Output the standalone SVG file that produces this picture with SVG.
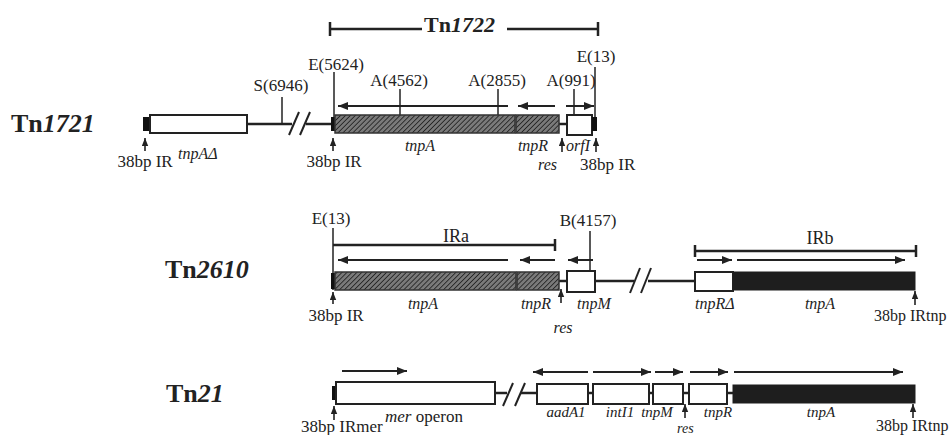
<svg xmlns="http://www.w3.org/2000/svg" width="950" height="435" viewBox="0 0 950 435">
<defs>
  <pattern id="hatch" patternUnits="userSpaceOnUse" width="3.5" height="3.5" patternTransform="rotate(45)">
    <rect width="3.5" height="3.5" fill="#7a7a7a"/>
    <line x1="0" y1="0" x2="0" y2="3.5" stroke="#222" stroke-width="1.7"/>
  </pattern>
  <marker id="head" viewBox="0 0 10 8" refX="10" refY="4" markerWidth="11" markerHeight="8" markerUnits="userSpaceOnUse" orient="auto">
    <path d="M0,0 L10,4 L0,8 Z" fill="#222"/>
  </marker>
  <marker id="headS" viewBox="0 0 10 8" refX="10" refY="4" markerWidth="8" markerHeight="7" markerUnits="userSpaceOnUse" orient="auto">
    <path d="M0,0 L10,4 L0,8 Z" fill="#222"/>
  </marker>
</defs>
<style>
  .bb { stroke:#222; stroke-width:2.5; fill:none; }
  .tick { stroke:#222; stroke-width:1.5; fill:none; }
  .brk { stroke:#222; stroke-width:2.5; fill:none; }
  .arr { stroke:#222; stroke-width:2; fill:none; marker-end:url(#head); }
  .up { stroke:#222; stroke-width:1.6; fill:none; marker-end:url(#headS); }
  .wbox { fill:#fff; stroke:#222; stroke-width:2; }
  .hbox { fill:url(#hatch); stroke:#333; stroke-width:1.5; }
  .kbox { fill:#1e1e1e; stroke:#1e1e1e; stroke-width:1; }
  .end { fill:#111; }
  .slash { stroke:#222; stroke-width:2; fill:none; }
  .t { font-family:"Liberation Serif","Times New Roman",serif; font-size:17px; fill:#222; }
  .g { font-family:"Liberation Serif","Times New Roman",serif; font-size:16px; font-style:italic; fill:#222; }
  .g3 { font-family:"Liberation Serif","Times New Roman",serif; font-size:15px; font-style:italic; fill:#222; }
  .tn { font-family:"Liberation Serif","Times New Roman",serif; font-size:26px; font-weight:bold; fill:#222; }
  .ir { font-family:"Liberation Serif","Times New Roman",serif; font-size:18px; fill:#222; }
  .m { text-anchor:middle; }
</style>
<rect width="950" height="435" fill="#fff"/>

<!-- ===================== Connectors (backbones, arrows, ticks) ===================== -->
<g id="connectors">
  <!-- Row 1 backbone -->
  <line class="bb" x1="143" y1="124" x2="292" y2="124"/>
  <line class="bb" x1="306" y1="124" x2="335" y2="124"/>
  <line class="bb" x1="559" y1="124" x2="567" y2="124"/>
  <!-- Row 2 backbone -->
  <line class="bb" x1="559" y1="281" x2="567" y2="281"/>
  <line class="bb" x1="595" y1="281" x2="634" y2="281"/>
  <line class="bb" x1="648" y1="281" x2="695" y2="281"/>
  <!-- Row 3 backbone -->
  <line class="bb" x1="495" y1="393" x2="507" y2="393"/>
  <line class="bb" x1="521" y1="393" x2="537" y2="393"/>
  <line class="bb" x1="588" y1="393" x2="593" y2="393"/>
  <line class="bb" x1="649" y1="393" x2="653" y2="393"/>
  <line class="bb" x1="683" y1="393" x2="689" y2="393"/>
  <line class="bb" x1="727" y1="393" x2="733" y2="393"/>

  <!-- Row 1 direction arrows -->
  <line class="arr" x1="508" y1="106" x2="338" y2="106"/>
  <line class="arr" x1="555" y1="106" x2="518" y2="106"/>
  <line class="arr" x1="566" y1="106" x2="594" y2="106"/>
  <!-- Row 2 direction arrows -->
  <line class="arr" x1="508" y1="260" x2="338" y2="260"/>
  <line class="arr" x1="555" y1="260" x2="520" y2="260"/>
  <line class="arr" x1="593" y1="260" x2="568" y2="260"/>
  <line class="arr" x1="697" y1="260" x2="732" y2="260"/>
  <line class="arr" x1="737" y1="260" x2="905" y2="260"/>
  <!-- Row 3 direction arrows -->
  <line class="arr" x1="342" y1="371" x2="407" y2="371"/>
  <line class="arr" x1="588" y1="372" x2="533" y2="372"/>
  <line class="arr" x1="593" y1="372" x2="651" y2="372"/>
  <line class="arr" x1="655" y1="372" x2="683" y2="372"/>
  <line class="arr" x1="690" y1="372" x2="728" y2="372"/>
  <line class="arr" x1="734" y1="372" x2="903" y2="372"/>

  <!-- Row 1 restriction ticks -->
  <line class="tick" x1="282" y1="97" x2="282" y2="124"/>
  <line class="tick" x1="334" y1="72" x2="334" y2="124"/>
  <line class="tick" x1="400" y1="89" x2="400" y2="115"/>
  <line class="tick" x1="498" y1="89" x2="498" y2="115"/>
  <line class="tick" x1="574" y1="89" x2="574" y2="115"/>
  <line class="tick" x1="595" y1="67" x2="595" y2="124"/>
  <!-- Row 2 ticks -->
  <line class="tick" x1="333" y1="228" x2="333" y2="290"/>
  <line class="tick" x1="590" y1="231" x2="590" y2="271"/>

  <!-- Tn1722 bracket -->
  <line class="brk" x1="330" y1="29" x2="422" y2="29"/>
  <line class="brk" x1="507" y1="29" x2="598" y2="29"/>
  <line class="brk" x1="330" y1="22" x2="330" y2="36"/>
  <line class="brk" x1="598" y1="22" x2="598" y2="36"/>
  <!-- IRa bracket -->
  <line class="brk" x1="333" y1="245" x2="555" y2="245"/>
  <line class="brk" x1="555" y1="239" x2="555" y2="251"/>
  <!-- IRb bracket -->
  <line class="brk" x1="695" y1="251" x2="916" y2="251"/>
  <line class="brk" x1="695" y1="245" x2="695" y2="257"/>
  <line class="brk" x1="916" y1="245" x2="916" y2="257"/>

  <!-- small up arrows -->
  <line class="up" x1="145" y1="151" x2="145" y2="138"/>
  <line class="up" x1="333" y1="151" x2="333" y2="138"/>
  <line class="up" x1="562" y1="152" x2="562" y2="138"/>
  <line class="up" x1="596" y1="152" x2="596" y2="138"/>
  <line class="up" x1="333" y1="304" x2="333" y2="292"/>
  <line class="up" x1="561" y1="303" x2="561" y2="289"/>
  <line class="up" x1="915" y1="305" x2="915" y2="291"/>
  <line class="up" x1="334" y1="420" x2="334" y2="406"/>
  <line class="up" x1="685" y1="418" x2="685" y2="404"/>
  <line class="up" x1="913" y1="418" x2="913" y2="404"/>

  <!-- break marks -->
  <line class="slash" x1="289" y1="135" x2="299" y2="112"/>
  <line class="slash" x1="300" y1="135" x2="310" y2="112"/>
  <line class="slash" x1="630" y1="293" x2="640" y2="268"/>
  <line class="slash" x1="641" y1="293" x2="651" y2="268"/>
  <line class="slash" x1="503" y1="406" x2="513" y2="383"/>
  <line class="slash" x1="515" y1="406" x2="525" y2="383"/>
</g>

<!-- ===================== Title bracket label ===================== -->
<g id="tn1722-label">
  <text class="tn" x="424" y="32" style="font-size:22px">Tn<tspan font-style="italic">1722</tspan></text>
</g>

<!-- ===================== Row 1: Tn1721 ===================== -->
<g id="tn1721">
  <text class="tn" x="11" y="132">Tn<tspan font-style="italic">1721</tspan></text>
  <rect class="end" x="143" y="117" width="7" height="14"/>
  <rect class="wbox" x="150" y="115" width="97" height="18"/>
  <rect class="end" x="331" y="117" width="6" height="14"/>
  <rect class="hbox" x="335" y="115" width="180" height="18"/>
  <rect class="hbox" x="516" y="115" width="43" height="18"/>
  <rect class="wbox" x="567" y="115" width="25" height="20"/>
  <rect class="end" x="592" y="117" width="5" height="14"/>

  <text class="t m" x="281" y="91">S(6946)</text>
  <text class="t m" x="336" y="70">E(5624)</text>
  <text class="t m" x="399" y="86">A(4562)</text>
  <text class="t m" x="497" y="86">A(2855)</text>
  <text class="t m" x="571" y="86">A(991)</text>
  <text class="t m" x="596" y="62">E(13)</text>

  <text class="t m" x="145" y="167">38bp IR</text>
  <text class="g" x="178" y="159">tnpAΔ</text>
  <text class="t m" x="334" y="167">38bp IR</text>
  <text class="g m" x="420" y="151">tnpA</text>
  <text class="g m" x="533" y="151">tnpR</text>
  <text class="g" x="566" y="151">orfI</text>
  <text class="g" x="538" y="170">res</text>
  <text class="t" x="580" y="170">38bp IR</text>
</g>

<!-- ===================== Row 2: Tn2610 ===================== -->
<g id="tn2610">
  <text class="tn" x="165" y="278">Tn<tspan font-style="italic">2610</tspan></text>
  <rect class="end" x="331" y="273" width="6" height="16"/>
  <rect class="hbox" x="335" y="272" width="181" height="18"/>
  <rect class="hbox" x="517" y="272" width="42" height="18"/>
  <rect class="wbox" x="567" y="271" width="28" height="21"/>
  <rect class="wbox" x="695" y="272" width="38" height="19"/>
  <rect class="kbox" x="733" y="272" width="182" height="18"/>

  <text class="t m" x="331" y="224">E(13)</text>
  <text class="ir m" x="456" y="242">IRa</text>
  <text class="t m" x="588" y="226">B(4157)</text>
  <text class="ir m" x="820" y="244">IRb</text>

  <text class="t m" x="336" y="321">38bp IR</text>
  <text class="g m" x="423" y="309">tnpA</text>
  <text class="g m" x="536" y="309">tnpR</text>
  <text class="g m" x="594" y="309">tnpM</text>
  <text class="g m" x="563" y="333">res</text>
  <text class="g" x="695" y="309">tnpRΔ</text>
  <text class="g m" x="820" y="309">tnpA</text>
  <text class="t" x="874" y="321" style="font-size:16px">38bp IRtnp</text>
</g>

<!-- ===================== Row 3: Tn21 ===================== -->
<g id="tn21">
  <text class="tn" x="166" y="402">Tn<tspan font-style="italic">21</tspan></text>
  <rect class="end" x="332" y="386" width="6" height="14"/>
  <rect class="wbox" x="336" y="382" width="159" height="22"/>
  <rect class="wbox" x="537" y="384" width="51" height="20"/>
  <rect class="wbox" x="593" y="384" width="56" height="20"/>
  <rect class="wbox" x="653" y="384" width="30" height="20"/>
  <rect class="wbox" x="689" y="384" width="38" height="20"/>
  <rect class="kbox" x="733" y="385" width="182" height="18"/>

  <text class="t" x="301" y="432">38bp IRmer</text>
  <text class="t" x="385" y="422"><tspan font-style="italic">mer</tspan> operon</text>
  <text class="g3 m" x="566" y="417">aadA1</text>
  <text class="g3 m" x="620" y="417">intI1</text>
  <text class="g3 m" x="657" y="417">tnpM</text>
  <text class="g3 m" x="718" y="417">tnpR</text>
  <text class="g3 m" x="821" y="417">tnpA</text>
  <text class="g3" x="677" y="433" style="font-size:14px">res</text>
  <text class="t" x="876" y="431" style="font-size:16px">38bp IRtnp</text>
</g>
</svg>
